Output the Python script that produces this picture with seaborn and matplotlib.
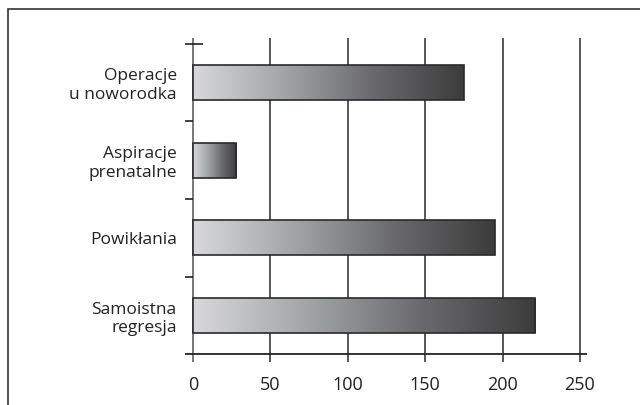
import numpy as np
import pandas as pd
import seaborn as sns
import matplotlib
matplotlib.use("Agg")
import matplotlib.pyplot as plt
from matplotlib.colors import LinearSegmentedColormap
from matplotlib.patches import Rectangle

categories = ["Operacje\nu noworodka", "Aspiracje\nprenatalne", "Powikłania", "Samoistna\nregresja"]
values = [175, 28, 195, 221]
xticks = [0, 50, 100, 150, 200, 250]

df = pd.DataFrame({"kategoria": categories, "liczba": values})

sns.set_style("white")
plt.rcParams["font.family"] = ["Open Sans", "DejaVu Sans"]

W, H = 640, 405
fig = plt.figure(figsize=(W / 100, H / 100), dpi=100)
# axes placed in pixel coordinates
left, right, top, bottom = 185, 590, 35, 365
ax = fig.add_axes([left / W, 1 - bottom / H, (right - left) / W, (bottom - top) / H])

sns.barplot(data=df, x="liczba", y="kategoria", orient="h", width=0.45,
            color="white", edgecolor="#2a2a2a", linewidth=1.2, ax=ax, zorder=3)

ax.set_xlim(-5.17, 256.5)
ax.set_ylim(3.636, -0.611)

# gradient fill inside each bar
cmap = LinearSegmentedColormap.from_list("g", ["#d8d8da", "#a2a5a6", "#6a6a6e", "#3c3c3c"])
grad = np.linspace(0, 1, 256).reshape(1, -1)
for p in ax.patches:
    x0, y0 = p.get_x(), p.get_y()
    w, h = p.get_width(), p.get_height()
    p.set_facecolor("none")
    im = ax.imshow(grad, cmap=cmap, aspect="auto", extent=(x0, x0 + w, y0 + h, y0),
                   zorder=2.5, interpolation="bicubic")
    im.set_clip_path(p)

ax.set_xlim(-5.17, 256.5)
ax.set_ylim(3.636, -0.611)

# grid lines and axis lines
for t in xticks:
    ax.vlines(t, -0.57, 3.6, color="#555555" if t else "#777777", lw=1.4, zorder=1, clip_on=False)
ax.hlines(3.5, -5.2, 254.6, color="#222222", lw=1.3, zorder=4)
for yb in [0.5, 1.5, 2.5]:
    ax.hlines(yb, -5.2, 0, color="#222222", lw=1.2, zorder=4)
ax.hlines(-0.5, -5.2, 6.5, color="#222222", lw=1.2, zorder=4)

sns.despine(ax=ax, left=True, bottom=True)
ax.set_xticks(xticks)
ax.set_xticklabels([str(t) for t in xticks], fontsize=13, color="#222222")
ax.tick_params(axis="x", length=0, pad=8)
ax.tick_params(axis="y", length=0, pad=6, labelsize=12.5, labelcolor="#222222")
ax.set_xlabel("")
ax.set_ylabel("")
ax.grid(False)

# outer frame
fig.patches.append(Rectangle((8 / W, -0.1), 1.2, 1 - 9 / H + 0.1, transform=fig.transFigure,
                             fill=False, edgecolor="#333333", lw=1.2))

fig.savefig("out.png", dpi=100)
